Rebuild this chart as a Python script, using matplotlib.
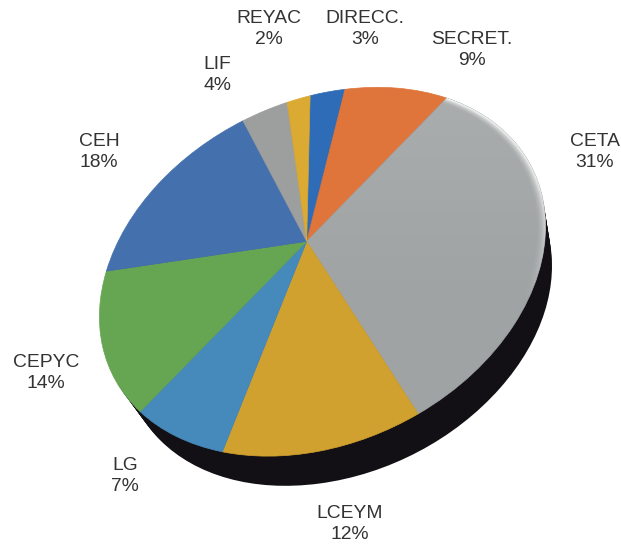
import numpy as np
import matplotlib
matplotlib.use('Agg')
import matplotlib.pyplot as plt
from matplotlib.patches import Circle
from matplotlib.transforms import Transform, Affine2D

plt.rcParams['font.family'] = ['Liberation Sans', 'DejaVu Sans']

categories = ['DIRECC.', 'SECRET.', 'CETA', 'LCEYM', 'LG', 'CEPYC', 'CEH', 'LIF', 'REYAC']
values = [3, 9, 31, 12, 7, 14, 18, 4, 2]
colors = ['#2f6cb8', '#df753b', '#9fa3a3', '#d1a12f', '#4689bb', '#66a653', '#4570ae', '#9d9f9f', '#dbaa33']
label_xy = [(365, 29), (472, 50), (595, 152), (350, 524), (125, 476), (46, 373), (99, 152), (217, 75), (269, 29)]

# where slice borders land in the picture, used to fit the tilt of the disc
rim_pct = [0, 3, 12, 43, 55, 62, 76, 94, 98]
rim_px = [(309, 96), (342, 89), (448, 97), (416, 413), (223, 453), (139, 411), (106, 270), (244, 121), (288, 103)]
center_px = (308, 242)
depth = (17, 40)
side_shrink = 0.96


def fit_homography(src, dst):
    rows = []
    for (x, y), (u, v) in zip(src, dst):
        rows.append([x, y, 1, 0, 0, 0, -u * x, -u * y, -u])
        rows.append([0, 0, 0, x, y, 1, -v * x, -v * y, -v])
    return np.linalg.svd(np.array(rows))[2][-1].reshape(3, 3)


class Tilt(Transform):
    input_dims = 2
    output_dims = 2

    def __init__(self, mat):
        super().__init__()
        self.mat = mat

    def transform_non_affine(self, xy):
        xy = np.asarray(xy)
        p = np.column_stack([xy, np.ones(len(xy))]) @ self.mat.T
        return p[:, :2] / p[:, 2:]


ang = np.radians(90 - 3.6 * np.array(rim_pct))
src = list(zip(np.cos(ang), np.sin(ang))) + [(0, 0)] * 3
dst = rim_px + [center_px] * 3
H = fit_homography(src, dst)
tilt = Tilt(H)

fig = plt.figure(figsize=(6.21, 5.44), dpi=100)
ax = fig.add_axes([0, 0, 1, 1])

wedges, _ = ax.pie(values, colors=colors, startangle=90, counterclock=False, radius=1)
ax.set_aspect('auto')
ax.set_xlim(0, 621)
ax.set_ylim(544, 0)
ax.axis('off')

for w, c in zip(wedges, colors):
    w.set_transform(tilt + ax.transData)
    w.set_zorder(3)
    w.set_edgecolor(c)
    w.set_linewidth(0.5)

# dark side of the disc
for f in np.linspace(0.1, 1, 12):
    shift = Affine2D().translate(depth[0] * f, depth[1] * f)
    ax.add_patch(Circle((0, 0), 1 - (1 - side_shrink) * f, fc='#121014', ec='none', zorder=2,
                        transform=tilt + shift + ax.transData))

# soft shine, computed in disc coordinates
xx, yy = np.meshgrid(np.arange(0, 621), np.arange(0, 544))
inv = np.linalg.inv(H)
pts = np.stack([xx, yy, np.ones_like(xx)], axis=-1) @ inv.T
rr = np.hypot(pts[..., 0] / pts[..., 2], pts[..., 1] / pts[..., 2])

rim = np.zeros((544, 621, 4))
rim[..., :3] = 1
upper = np.clip((300 - yy) / 120, 0, 1)
rim[..., 3] = np.clip((rr - 0.96) / 0.04, 0, 1) ** 2 * 0.95 * upper
im = ax.imshow(rim, extent=(0, 621, 544, 0), zorder=4, aspect='auto', interpolation='bilinear')
im.set_clip_path(wedges[2])

sheen = np.zeros((544, 621, 4))
sheen[..., :3] = 1
sheen[..., 3] = np.clip((300 - yy) / 220, 0, 1) * 0.12
im2 = ax.imshow(sheen, extent=(0, 621, 544, 0), zorder=4, aspect='auto')
im2.set_clip_path(wedges[2])

ax.set_xlim(0, 621)
ax.set_ylim(544, 0)

for cat, val, (x, y) in zip(categories, values, label_xy):
    ax.text(x, y, f'{cat}\n{val}%', ha='center', va='center', fontsize=13.9,
            color='#333333', linespacing=1.36, zorder=5)

fig.savefig('out.png', dpi=100)
